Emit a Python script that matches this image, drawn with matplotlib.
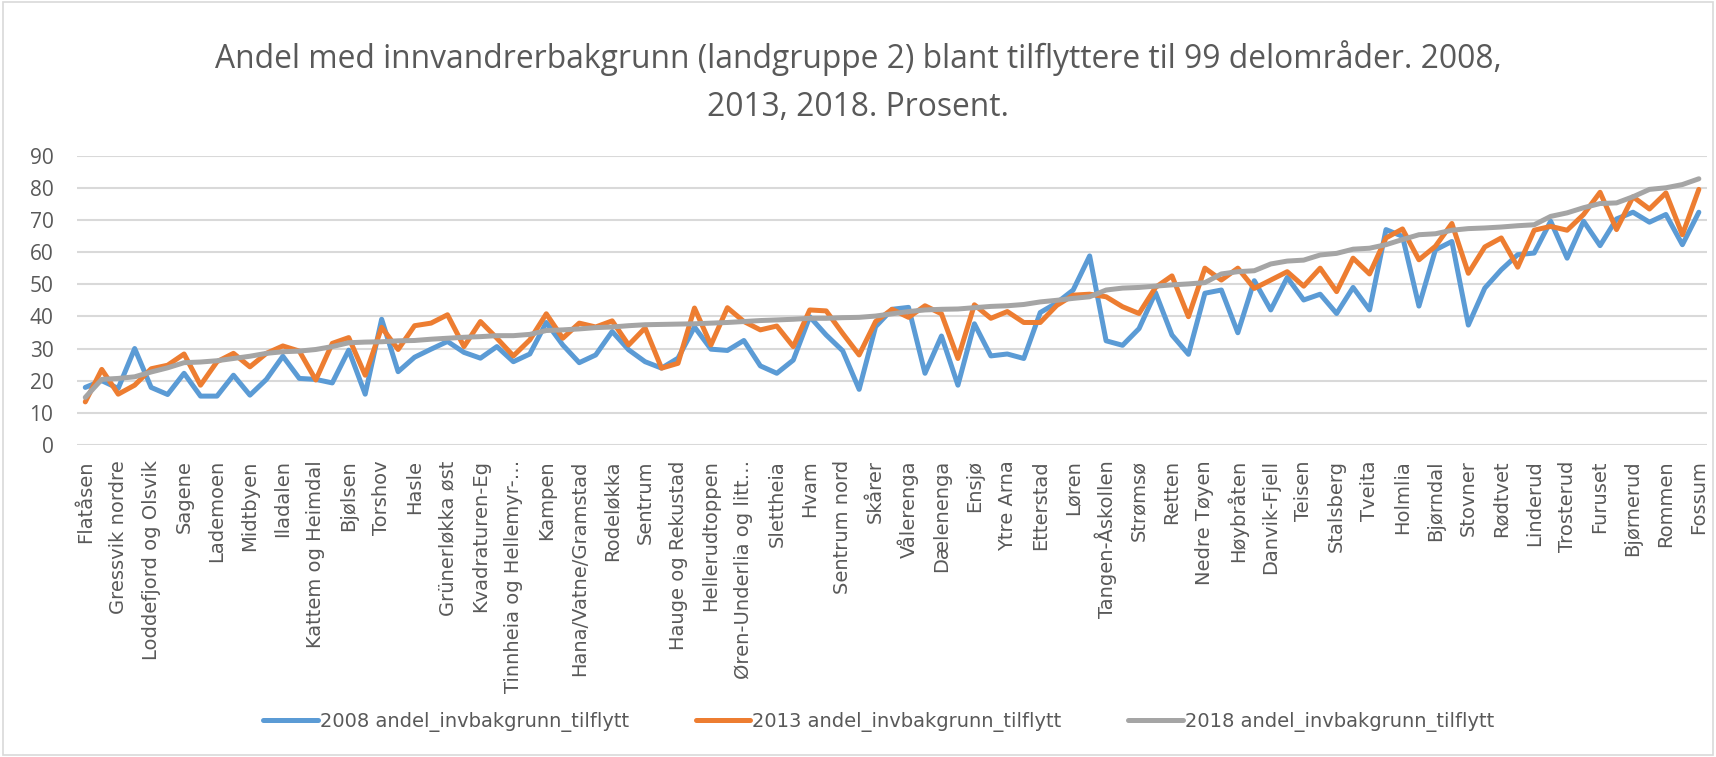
import matplotlib
matplotlib.use("Agg")
import matplotlib.pyplot as plt
from matplotlib.patches import Rectangle

# labels shown on the axis (every second district)
shown_labels = [
    "Flatåsen", "Gressvik nordre", "Loddefjord og Olsvik", "Sagene", "Lademoen",
    "Midtbyen", "Iladalen", "Kattem og Heimdal", "Bjølsen", "Torshov",
    "Hasle", "Grünerløkka øst", "Kvadraturen-Eg", "Tinnheia og Hellemyr-…", "Kampen",
    "Hana/Vatne/Gramstad", "Rodeløkka", "Sentrum", "Hauge og Rekustad", "Hellerudtoppen",
    "Øren-Underlia og litt…", "Slettheia", "Hvam", "Sentrum nord", "Skårer",
    "Vålerenga", "Dælenenga", "Ensjø", "Ytre Arna", "Etterstad",
    "Løren", "Tangen-Åskollen", "Strømsø", "Retten", "Nedre Tøyen",
    "Høybråten", "Danvik-Fjell", "Teisen", "Stalsberg", "Tveita",
    "Holmlia", "Bjørndal", "Stovner", "Rødtvet", "Linderud",
    "Trosterud", "Furuset", "Bjørnerud", "Rommen", "Fossum",
]

v2008 = [
    17.9, 20.0, 17.6, 30.0, 17.9, 15.7, 22.3, 15.2, 15.2, 21.7,
    15.5, 20.4, 27.6, 20.7, 20.4, 19.3, 29.5, 15.8, 39.1, 22.8,
    27.3, 29.8, 32.2, 28.8, 27.0, 30.6, 25.9, 28.3, 38.1, 31.1,
    25.6, 28.0, 35.3, 29.6, 25.9, 23.9, 27.0, 36.7, 29.8, 29.4,
    32.5, 24.6, 22.3, 26.4, 39.9, 34.2, 29.3, 17.3, 36.8, 42.2,
    42.8, 22.3, 33.9, 18.6, 37.7, 27.7, 28.3, 26.9, 41.2, 44.2,
    48.2, 58.8, 32.4, 31.0, 36.2, 47.4, 34.2, 28.2, 47.2, 48.2,
    34.9, 51.1, 42.0, 52.1, 45.1, 46.9, 40.9, 49.0, 42.0, 67.0,
    64.9, 43.2, 60.7, 63.3, 37.3, 48.8, 54.5, 59.2, 59.7, 69.6,
    58.1, 69.6, 62.0, 70.3, 72.4, 69.3, 71.7, 62.3, 72.4,
]
v2013 = [
    13.4, 23.5, 15.8, 18.6, 23.7, 24.8, 28.3, 18.6, 25.9, 28.5,
    24.3, 28.5, 30.8, 29.2, 20.2, 31.6, 33.4, 21.7, 36.6, 29.7,
    37.1, 37.9, 40.5, 30.6, 38.4, 33.2, 27.7, 32.7, 40.8, 33.2,
    37.9, 36.7, 38.6, 31.1, 36.4, 23.9, 25.4, 42.6, 31.1, 42.7,
    38.4, 35.8, 37.0, 30.6, 42.0, 41.7, 34.7, 28.0, 38.4, 42.2,
    39.7, 43.3, 40.8, 26.9, 43.6, 39.4, 41.5, 38.1, 38.1, 43.4,
    46.6, 46.9, 46.1, 43.0, 40.9, 49.0, 52.6, 39.9, 55.0, 51.3,
    55.0, 48.7, 51.3, 53.9, 49.4, 55.0, 47.7, 58.1, 53.2, 64.4,
    67.2, 57.6, 61.8, 68.9, 53.4, 61.6, 64.4, 55.3, 66.8, 68.0,
    66.8, 71.7, 78.6, 67.0, 77.2, 73.4, 78.4, 65.4, 79.5,
]
v2018 = [
    14.8, 20.4, 20.7, 21.2, 22.7, 24.0, 25.6, 25.8, 26.2, 26.9,
    27.6, 28.5, 29.0, 29.2, 29.7, 30.6, 31.8, 32.0, 32.1, 32.4,
    32.5, 32.9, 33.2, 33.5, 33.7, 34.0, 34.0, 34.4, 35.6, 35.8,
    36.1, 36.5, 36.7, 37.1, 37.4, 37.5, 37.6, 37.7, 37.9, 38.1,
    38.4, 38.7, 38.9, 39.1, 39.4, 39.4, 39.6, 39.7, 40.1, 40.8,
    41.5, 42.0, 42.2, 42.3, 42.7, 43.1, 43.3, 43.7, 44.5, 45.0,
    45.6, 46.1, 48.2, 48.8, 49.0, 49.4, 49.8, 50.1, 50.5, 53.2,
    53.9, 54.2, 56.3, 57.2, 57.5, 59.1, 59.6, 60.9, 61.2, 62.3,
    63.9, 65.4, 65.7, 66.8, 67.3, 67.5, 67.8, 68.2, 68.5, 71.1,
    72.2, 73.8, 75.1, 75.3, 77.2, 79.5, 80.0, 81.0, 82.8,
]
series = [
    ("2008 andel_invbakgrunn_tilflytt", v2008, "#5B9BD5"),
    ("2013 andel_invbakgrunn_tilflytt", v2013, "#ED7D31"),
    ("2018 andel_invbakgrunn_tilflytt", v2018, "#A5A5A5"),
]
TEXT = "#595959"
GRID = "#D9D9D9"

fig = plt.figure(figsize=(17.16, 7.57), dpi=100)
ax = fig.add_axes([0.0449, 0.4122, 0.9499, 0.3822])

x = list(range(len(v2008)))
for label, vals, color in series:
    ax.plot(x, vals, color=color, lw=3.6, label=label, solid_joinstyle="round", solid_capstyle="round")

ax.set_xlim(-0.5, len(v2008) - 0.5)
ax.set_ylim(0, 90)
ax.set_yticks(range(0, 91, 10))
ax.grid(axis="y", color=GRID, lw=1.5)
ax.set_axisbelow(True)
for s in ax.spines.values():
    s.set_visible(False)

ax.set_xticks(x[::2])
ax.set_xticklabels(shown_labels, rotation=90, fontsize=14, color=TEXT)
ax.tick_params(axis="x", length=0, pad=11)
ax.tick_params(axis="y", length=0, pad=17, labelsize=15, labelcolor=TEXT)
for t in ax.get_yticklabels():
    t.set_family("Open Sans")

fig.text(0.5, 0.892,
         "Andel med innvandrerbakgrunn (landgruppe 2) blant tilflyttere til 99 delområder. 2008,\n"
         "2013, 2018. Prosent.",
         ha="center", va="center", fontsize=22.9, color=TEXT, family="Open Sans", linespacing=1.6)

fig.legend(loc="center", bbox_to_anchor=(0.512, 0.046), ncol=3, frameon=False,
           fontsize=14, labelcolor=TEXT, handlelength=2.8, handletextpad=0.1, columnspacing=3.45)

fig.patches.append(Rectangle((0.002, 0.002), 0.996, 0.996, transform=fig.transFigure,
                             fill=False, edgecolor=GRID, lw=1.2))

fig.savefig("out.png", dpi=100)
